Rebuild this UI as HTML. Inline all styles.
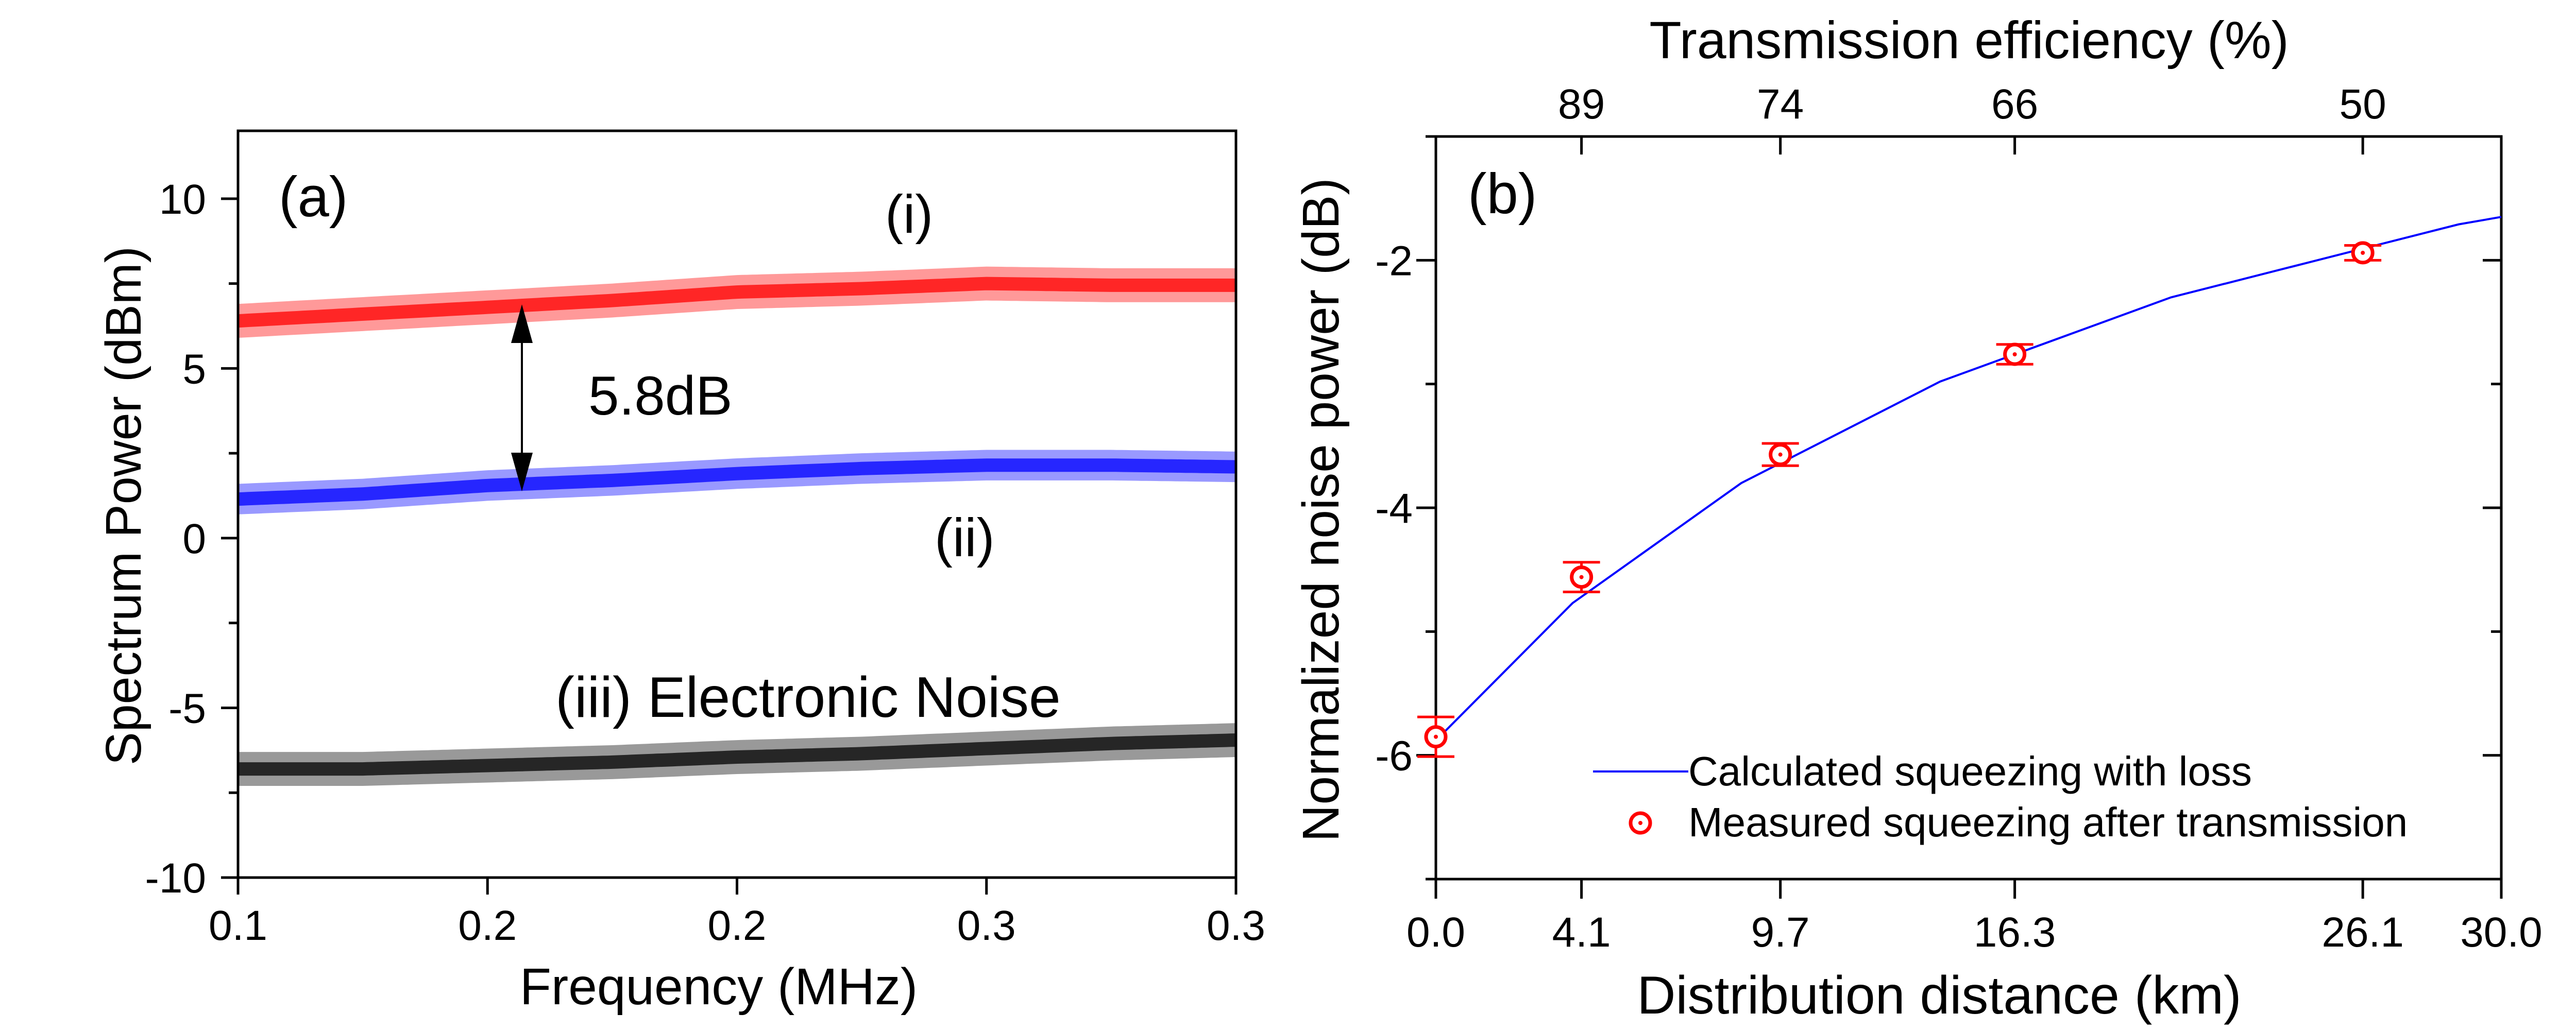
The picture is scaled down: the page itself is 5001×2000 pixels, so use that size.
<!DOCTYPE html>
<html><head><meta charset="utf-8"><style>
html,body{margin:0;padding:0;background:#fff}
svg{display:block}
text{font-family:"Liberation Sans",Arial,sans-serif;fill:#000}
</style></head><body>
<svg id="fig" width="5001" height="2000" viewBox="0 0 5001 2000" xmlns="http://www.w3.org/2000/svg">
<g id="pa"></g>
<g id="pb"></g>
</svg>
<script>
// ---- Panel (a) data ----
const aFreq = [0.100,0.125,0.150,0.175,0.200,0.225,0.250,0.275,0.300];
const aRed = [6.4,6.6,6.8,7.0,7.25,7.35,7.5,7.45,7.45];
const aBlue = [1.15,1.3,1.55,1.7,1.9,2.05,2.15,2.15,2.1];
const aBlack = [-6.8,-6.8,-6.7,-6.6,-6.45,-6.35,-6.2,-6.05,-5.95];
const aNoise = [0.5,0.45,0.5];
const aXTickVals = [0.10,0.15,0.20,0.25,0.30];
const aXTickLabels = ["0.1","0.2","0.2","0.3","0.3"];
const aYTicks = [-10,-5,0,5,10];
const aYMinor = [-7.5,-2.5,2.5,7.5];
// ---- Panel (b) data ----
const bCalcX = [0,3.85,8.6,14.2,20.7,28.8,30];
const bCalcY = [-5.88,-4.77,-3.80,-2.98,-2.30,-1.71,-1.65];
const bMeasX = [0,4.1,9.7,16.3,26.1];
const bMeasY = [-5.85,-4.56,-3.57,-2.76,-1.94];
const bMeasErr = [0.16,0.12,0.09,0.08,0.06];
const bXTicks = [0,4.1,9.7,16.3,26.1,30];
const bXTickLabels = ["0.0","4.1","9.7","16.3","26.1","30.0"];
const bTopTicks = [4.1,9.7,16.3,26.1];
const bTopLabels = ["89","74","66","50"];
const bYTicks = [-2,-4,-6];
const bYMinor = [-3,-5,-7,-1];

const NS="http://www.w3.org/2000/svg";
function mk(parent,tag,attrs,txt){const e=document.createElementNS(NS,tag);for(const k in attrs)e.setAttribute(k,attrs[k]);if(txt!==undefined)e.textContent=txt;parent.appendChild(e);return e;}

// ===== Panel a =====
const pa=document.getElementById('pa');
const aL=462,aR=2399,aT=254,aB=1704;
const ax=v=>aL+(v-0.1)/(0.2)*(aR-aL);
const ay=v=>aB-(v+10)/22*(aB-aT);
function trace(vals,color,amp,name){
  let up=[],dn=[],mid=[];
  const n=200;
  for(let i=0;i<=n;i++){
    const f=0.1+0.2*i/n;
    let k=Math.min(aFreq.length-2,Math.floor((f-0.1)/0.025));
    const t=(f-aFreq[k])/0.025;
    const v=vals[k]*(1-t)+vals[k+1]*t;
    up.push(ax(f).toFixed(1)+','+ay(v+amp).toFixed(1));
    dn.unshift(ax(f).toFixed(1)+','+ay(v-amp).toFixed(1));
    mid.push(ax(f).toFixed(1)+','+ay(v).toFixed(1));
  }
  const band=mk(pa,'polygon',{points:up.concat(dn).join(' '),fill:color,'fill-opacity':0.4});
  
  
  const line=mk(pa,'polyline',{points:mid.join(' '),fill:'none',stroke:color,'stroke-width':26,'stroke-opacity':0.75});
  
  
}
trace(aRed,'#ff0000',aNoise[0],'trace-i-red');
trace(aBlue,'#0000ff',aNoise[1],'trace-ii-blue');
trace(aBlack,'#000000',aNoise[2],'trace-iii-black');
// frame
let fr=mk(pa,'rect',{x:aL,y:aT,width:aR-aL,height:aB-aT,fill:'none',stroke:'#000','stroke-width':5});


aYTicks.forEach(v=>{
  const y=ay(v);
  const t=mk(pa,'line',{x1:aL-33,x2:aL,y1:y,y2:y,stroke:'#000','stroke-width':5});
  
  
  const l=mk(pa,'text',{x:400,y:y+29,'text-anchor':'end','font-size':82},String(v));
  
  
});
aYMinor.forEach(v=>{
  const y=ay(v);
  const t=mk(pa,'line',{x1:aL-18,x2:aL,y1:y,y2:y,stroke:'#000','stroke-width':5});
  
  
});
aXTickVals.forEach((v,i)=>{
  const x=ax(v);
  const t=mk(pa,'line',{x1:x,x2:x,y1:aB,y2:aB+33,stroke:'#000','stroke-width':5});
  
  
  const l=mk(pa,'text',{x:x,y:1825,'text-anchor':'middle','font-size':82},aXTickLabels[i]);
  
  
});
// arrow
(function(){
  const x=1013,y1=591,y2=954;
  const g=mk(pa,'g',{});
  
  
  mk(g,'line',{x1:x,x2:x,y1:y1+60,y2:y2-60,stroke:'#000','stroke-width':4});
  mk(g,'polygon',{points:`${x},${y1} ${x-21},${y1+75} ${x+21},${y1+75}`,fill:'#000'});
  mk(g,'polygon',{points:`${x},${y2} ${x-21},${y2-75} ${x+21},${y2-75}`,fill:'#000'});
})();
[[541,420,110,'(a)','panel-a-label'],[1718,452,105,'(i)','label-i'],[1814,1080,105,'(ii)','label-ii'],[1142,805,107,'5.8dB','difference-label'],[1078,1392,111,'(iii) Electronic Noise','label-iii']].forEach(d=>{
  const t=mk(pa,'text',{x:d[0],y:d[1],'font-size':d[2]},d[3]);
  
  
});
let xt=mk(pa,'text',{x:1395,y:1950,'text-anchor':'middle','font-size':100},'Frequency (MHz)');


let yt=mk(pa,'text',{x:0,y:0,'text-anchor':'middle','font-size':97,transform:'translate(273,982) rotate(-90)'},'Spectrum Power (dBm)');



// ===== Panel b =====
const pb=document.getElementById('pb');
const bL=2787,bR=4855,bT=265,bB=1707;
const bx=v=>bL+v/30*(bR-bL);
const by=v=>bB-(v+7)/6*(bB-bT);
let fb=mk(pb,'rect',{x:bL,y:bT,width:bR-bL,height:bB-bT,fill:'none',stroke:'#000','stroke-width':5});


bYTicks.forEach(v=>{
  const y=by(v);
  const t=mk(pb,'line',{x1:bL-38,x2:bL,y1:y,y2:y,stroke:'#000','stroke-width':5});
  
  
  const t2=mk(pb,'line',{x1:bR-36,x2:bR,y1:y,y2:y,stroke:'#000','stroke-width':5});
  
  
  const l=mk(pb,'text',{x:2742,y:y+29,'text-anchor':'end','font-size':82},String(v));
  
  
});
bYMinor.forEach(v=>{
  const y=by(v);
  const t=mk(pb,'line',{x1:bL-20,x2:bL,y1:y,y2:y,stroke:'#000','stroke-width':5});
  
  
  const t2=mk(pb,'line',{x1:bR-20,x2:bR,y1:y,y2:y,stroke:'#000','stroke-width':5});
  
  
});
bXTicks.forEach((v,i)=>{
  const x=bx(v);
  const t=mk(pb,'line',{x1:x,x2:x,y1:bB,y2:bB+38,stroke:'#000','stroke-width':5});
  
  
  const l=mk(pb,'text',{x:x,y:1838,'text-anchor':'middle','font-size':82},bXTickLabels[i]);
  
  
});
bTopTicks.forEach((v,i)=>{
  const x=bx(v);
  const t=mk(pb,'line',{x1:x,x2:x,y1:bT,y2:bT+35,stroke:'#000','stroke-width':5});
  
  
  const l=mk(pb,'text',{x:x,y:230,'text-anchor':'middle','font-size':82},bTopLabels[i]);
  
  
});
let cl=mk(pb,'polyline',{points:bCalcX.map((v,i)=>bx(v)+','+by(bCalcY[i])).join(' '),fill:'none',stroke:'#0000ff','stroke-width':4});


bMeasX.forEach((v,i)=>{
  const x=bx(v),y=by(bMeasY[i]),yt=by(bMeasY[i]+bMeasErr[i]),yb=by(bMeasY[i]-bMeasErr[i]);
  const g=mk(pb,'g',{});
  
  
  mk(g,'line',{x1:x,x2:x,y1:yt,y2:yb,stroke:'#ff0000','stroke-width':5});
  mk(g,'line',{x1:x-36,x2:x+36,y1:yt,y2:yt,stroke:'#ff0000','stroke-width':5});
  mk(g,'line',{x1:x-36,x2:x+36,y1:yb,y2:yb,stroke:'#ff0000','stroke-width':5});
  mk(g,'circle',{cx:x,cy:y,r:19,fill:'#fff',stroke:'#ff0000','stroke-width':7});
  mk(g,'circle',{cx:x,cy:y,r:4,fill:'#ff0000'});
});
// legend
const lg=mk(pb,'g',{});


mk(lg,'line',{x1:3092,x2:3277,y1:1498,y2:1498,stroke:'#0000ff','stroke-width':4});
mk(lg,'text',{x:3277,y:1525,'font-size':80},'Calculated squeezing with loss');
mk(lg,'circle',{cx:3184,cy:1598,r:19,fill:'#fff',stroke:'#ff0000','stroke-width':7});
mk(lg,'circle',{cx:3184,cy:1598,r:4,fill:'#ff0000'});
mk(lg,'text',{x:3277,y:1624,'font-size':80},'Measured squeezing after transmission');
[[2849,414,110,'(b)','panel-b-label']].forEach(d=>{
  const t=mk(pb,'text',{x:d[0],y:d[1],'font-size':d[2]},d[3]);
  
  
});
let tt=mk(pb,'text',{x:3822,y:113,'text-anchor':'middle','font-size':102},'Transmission efficiency (%)');


let bxt=mk(pb,'text',{x:3764,y:1968,'text-anchor':'middle','font-size':104},'Distribution distance (km)');


let byt=mk(pb,'text',{x:0,y:0,'text-anchor':'middle','font-size':100,transform:'translate(2598,990) rotate(-90)'},'Normalized noise power (dB)');


</script>
</body></html>
